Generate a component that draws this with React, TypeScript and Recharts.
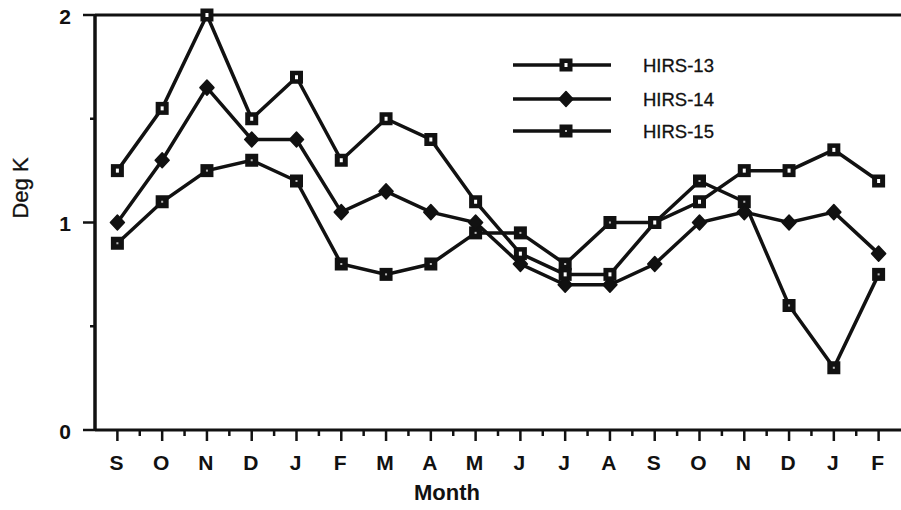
import React from 'react';
import { LineChart, Line, XAxis, YAxis, ReferenceLine, Legend } from 'recharts';

const months = ['S', 'O', 'N', 'D', 'J', 'F', 'M', 'A', 'M', 'J', 'J', 'A', 'S', 'O', 'N', 'D', 'J', 'F'];
const hirs13 = [1.25, 1.55, 2.0, 1.5, 1.7, 1.3, 1.5, 1.4, 1.1, 0.85, 0.75, 0.75, 1.0, 1.1, 1.25, 1.25, 1.35, 1.2];
const hirs14 = [1.0, 1.3, 1.65, 1.4, 1.4, 1.05, 1.15, 1.05, 1.0, 0.8, 0.7, 0.7, 0.8, 1.0, 1.05, 1.0, 1.05, 0.85];
const hirs15 = [0.9, 1.1, 1.25, 1.3, 1.2, 0.8, 0.75, 0.8, 0.95, 0.95, 0.8, 1.0, 1.0, 1.2, 1.1, 0.6, 0.3, 0.75];
const seriesNames = ['HIRS-13', 'HIRS-14', 'HIRS-15'];
const yTicks = [0, 0.5, 1, 1.5, 2];
const xTicks: number[] = [];
for (let i = 0; i < months.length; i++) {
  xTicks.push(i);
  if (i < months.length - 1) xTicks.push(i + 0.5);
}

const data = months.map((m, i) => ({ idx: i, month: m, h13: hirs13[i], h14: hirs14[i], h15: hirs15[i] }));

const FONT = '"Liberation Sans", Arial, Helvetica, sans-serif';
const INK = '#111';

function markerShape(kind: number, cx: number, cy: number, key?: string) {
  if (kind === 0) {
    return (
      <g key={key}>
        <rect x={cx - 6.5} y={cy - 6.5} width={13} height={13} fill={INK} />
        <rect x={cx - 1.5} y={cy - 2} width={3} height={4} fill="#fff" />
      </g>
    );
  }
  if (kind === 1) {
    return (
      <g key={key}>
        <path d={`M${cx},${cy - 7.5} L${cx + 7},${cy} L${cx},${cy + 7.5} L${cx - 7},${cy} Z`} fill={INK} stroke={INK} strokeWidth={1.5} strokeLinejoin="round" />
      </g>
    );
  }
  return (
    <g key={key}>
      <rect x={cx - 6.5} y={cy - 6.5} width={13} height={13} fill={INK} />
      <rect x={cx - 1} y={cy - 1} width={2} height={2} fill="#bbb" />
    </g>
  );
}

const makeDot = (kind: number) => (props: any) => {
  const { cx, cy, index } = props;
  return markerShape(kind, cx, cy, `dot-${kind}-${index}`);
};

function XTick(props: any) {
  const { x, y, payload } = props;
  const v = payload.value as number;
  const major = Math.abs(v - Math.round(v)) < 1e-6;
  return (
    <g>
      <line x1={x} x2={x} y1={y} y2={y + (major ? 11 : 6)} stroke={INK} strokeWidth={2.5} />
      {major && (
        <text x={x - 1} y={y + 40} textAnchor="middle" fontSize={21} fontWeight="bold" fontFamily={FONT} fill={INK}>
          {months[Math.round(v)]}
        </text>
      )}
    </g>
  );
}

function YTick(props: any) {
  const { x, y, payload } = props;
  const v = payload.value as number;
  const major = Math.abs(v - Math.round(v)) < 1e-6;
  return (
    <g>
      <line x1={x - (major ? 12 : 5)} x2={x} y1={y} y2={y} stroke={INK} strokeWidth={2.5} />
      {major && (
        <text x={x - 30} y={y + 8.5} textAnchor="middle" fontSize={21} fontWeight="bold" fontFamily={FONT} fill={INK}>
          {String(v)}
        </text>
      )}
    </g>
  );
}

function LegendContent(props: any) {
  const payload = (props.payload || []) as any[];
  const rowY = [25, 59, 91];
  return (
    <svg width={320} height={110} style={{ display: 'block' }}>
      {seriesNames.map((name, i) => {
        const item = payload.find((p) => p.value === name);
        const label = item ? item.value : name;
        return (
          <g key={name}>
            <line x1={13} x2={111} y1={rowY[i]} y2={rowY[i]} stroke={INK} strokeWidth={3.5} />
            {markerShape(i, 66, rowY[i])}
            <text x={143} y={rowY[i] + 6.5} fontSize={18.5} fontFamily={FONT} fill={INK} stroke={INK} strokeWidth={0.3}>
              {label}
            </text>
          </g>
        );
      })}
    </svg>
  );
}

export default function App() {
  return (
    <div style={{ position: 'absolute', left: 0, top: 0, width: 901, height: 510, background: '#fff' }}>
      <LineChart width={901} height={510} data={data} margin={{ top: 15, right: 0, bottom: 0, left: 0 }}>
        <XAxis
          dataKey="idx"
          type="number"
          domain={[-0.5, 17.5]}
          ticks={xTicks}
          interval={0}
          tick={<XTick />}
          tickLine={false}
          tickSize={0}
          tickMargin={0}
          height={80}
          axisLine={{ stroke: INK, strokeWidth: 3 }}
          allowDecimals
          label={{
            content: (p: any) => {
              const vb = p.viewBox || { x: 95, y: 430, width: 806, height: 80 };
              return (
                <text x={vb.x + 352} y={vb.y + 70} textAnchor="middle" fontSize={22} fontWeight="bold" fontFamily={FONT} fill={INK}>
                  Month
                </text>
              );
            },
          }}
        />
        <YAxis
          type="number"
          domain={[0, 2]}
          ticks={yTicks}
          interval={0}
          tick={<YTick />}
          tickLine={false}
          tickSize={0}
          tickMargin={0}
          width={95}
          axisLine={{ stroke: INK, strokeWidth: 3.5 }}
          label={{
            content: (p: any) => {
              const vb = p.viewBox || { x: 0, y: 15, width: 95, height: 415 };
              const cx = vb.x + 28;
              const cy = vb.y + 173;
              return (
                <text x={cx} y={cy} transform={`rotate(-90 ${cx} ${cy})`} textAnchor="middle" fontSize={22} fontFamily={FONT} fill={INK} stroke={INK} strokeWidth={0.3}>
                  Deg K
                </text>
              );
            },
          }}
        />
        <ReferenceLine y={2} stroke={INK} strokeWidth={3} ifOverflow="extendDomain" />
        <Legend
          layout="vertical"
          align="center"
          verticalAlign="middle"
          content={<LegendContent />}
          wrapperStyle={{ left: 500, top: 40, width: 320, height: 110 }}
        />
        <Line name={seriesNames[2]} dataKey="h15" stroke={INK} strokeWidth={3.5} dot={makeDot(2)} activeDot={false} isAnimationActive={false} />
        <Line name={seriesNames[1]} dataKey="h14" stroke={INK} strokeWidth={3.5} dot={makeDot(1)} activeDot={false} isAnimationActive={false} />
        <Line name={seriesNames[0]} dataKey="h13" stroke={INK} strokeWidth={3.5} dot={makeDot(0)} activeDot={false} isAnimationActive={false} />
      </LineChart>
    </div>
  );
}
